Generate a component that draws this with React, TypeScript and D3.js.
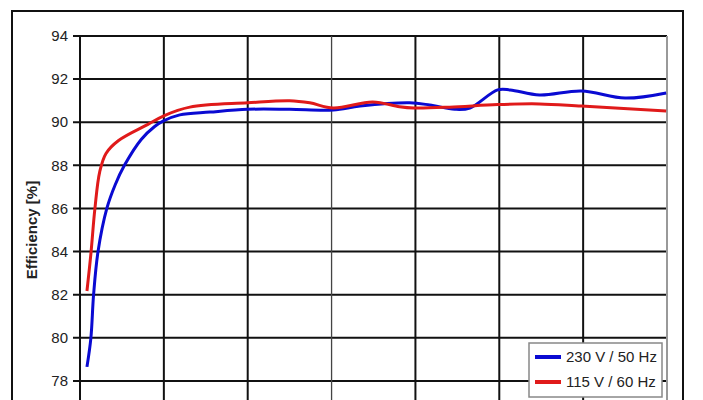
import { useEffect, useRef } from 'react';
import * as d3 from 'd3';

// load axis (its labels lie below the cropped picture, so only gridlines are drawn)
const xTicks = [0, 10, 20, 30, 40, 50, 60, 70];
const yTicks = [76, 78, 80, 82, 84, 86, 88, 90, 92, 94];

const seriesNames = ['230 V / 50 Hz', '115 V / 60 Hz'];
const seriesColors = ['#0a0ad2', '#e01a1a'];

const load230 = [0.83, 1.3, 1.62, 2.15, 3.2, 4.2, 5.3, 7.3, 8.9, 9.9, 11.9, 15.5, 20, 25, 30.2, 33.4, 39.3, 41.7, 44.7, 46.5, 49.8, 51.3, 54.8, 59.8, 65, 69.9];
const eff230 = [78.65, 80, 82, 84, 86, 87.1, 88, 89.2, 89.8, 90.05, 90.34, 90.47, 90.6, 90.6, 90.57, 90.75, 90.9, 90.8, 90.6, 90.66, 91.5, 91.5, 91.26, 91.45, 91.12, 91.36];

const load115 = [0.83, 1.3, 1.78, 2.35, 3.1, 4.6, 8.1, 10, 13.1, 20, 25, 27.4, 30.2, 34.9, 38.1, 39.8, 44.1, 49.8, 54.8, 59.8, 69.9];
const eff115 = [82.17, 83.9, 86, 87.7, 88.55, 89.15, 89.9, 90.3, 90.7, 90.9, 91, 90.9, 90.66, 90.94, 90.72, 90.66, 90.7, 90.82, 90.85, 90.75, 90.52];

const W = 703;
const H = 400;

export default function App() {
  const svgRef = useRef<SVGSVGElement>(null);

  useEffect(() => {
    if (!svgRef.current) return;
    const svg = d3.select(svgRef.current);
    svg.selectAll('*').remove();

    const left = 80, right = 667, top = 36, bottom = 424;
    const x = d3.scaleLinear().domain([0, 70]).range([left, right]);
    const y = d3.scaleLinear().domain([76, 94]).range([bottom, top]);
    const font = 'Liberation Sans, Arial, sans-serif';

    svg.append('rect').attr('width', W).attr('height', H).attr('fill', '#fff');

    // outer chart frame
    svg.append('rect').attr('x', 12).attr('y', 11).attr('width', 671).attr('height', 440)
      .attr('fill', 'none').attr('stroke', '#111').attr('stroke-width', 2);

    // horizontal grid + left ticks
    svg.append('g').selectAll('line').data(yTicks).join('line')
      .attr('x1', left - 7).attr('x2', right).attr('y1', d => y(d)).attr('y2', d => y(d))
      .attr('stroke', '#111').attr('stroke-width', 2);

    // vertical grid
    svg.append('g').selectAll('line').data(xTicks.slice(1, -1)).join('line')
      .attr('x1', d => x(d)).attr('x2', d => x(d)).attr('y1', top).attr('y2', bottom)
      .attr('stroke', d => (d === 30 ? '#444' : '#111')).attr('stroke-width', d => (d === 30 ? 1.3 : 2));

    // right border (gray) and left axis
    svg.append('line').attr('x1', right).attr('x2', right).attr('y1', top).attr('y2', bottom)
      .attr('stroke', '#999').attr('stroke-width', 2);
    svg.append('line').attr('x1', left).attr('x2', left).attr('y1', top).attr('y2', bottom + 7)
      .attr('stroke', '#111').attr('stroke-width', 2);

    // y tick labels (only those inside the picture)
    svg.append('g').selectAll('text').data(yTicks.filter(d => y(d) < H - 10)).join('text')
      .attr('x', left - 12).attr('y', d => y(d)).attr('dy', '0.35em')
      .attr('text-anchor', 'end').attr('font-family', font)
      .attr('font-size', 15).attr('fill', '#222').text(d => d);

    // y title
    svg.append('text').attr('transform', `translate(37,${(top + bottom) / 2}) rotate(-90)`)
      .attr('text-anchor', 'middle').attr('font-family', font)
      .attr('font-size', 15).attr('font-weight', 'bold').attr('fill', '#222').text('Efficiency [%]');

    // curves
    const line = d3.line<[number, number]>().x(d => x(d[0])).y(d => y(d[1])).curve(d3.curveCatmullRom.alpha(0.5));
    const data: [number, number][][] = [
      load230.map((v, i) => [v, eff230[i]]),
      load115.map((v, i) => [v, eff115[i]]),
    ];
    data.forEach((pts, i) => {
      svg.append('path').datum(pts).attr('d', line).attr('fill', 'none')
        .attr('stroke', seriesColors[i]).attr('stroke-width', 3).attr('stroke-linejoin', 'round');
    });

    // legend
    const lg = svg.append('g').attr('transform', 'translate(529,343)');
    lg.append('rect').attr('width', 133).attr('height', 54).attr('fill', '#fff')
      .attr('stroke', '#888').attr('stroke-width', 1.5);
    seriesNames.forEach((name, i) => {
      const ly = 14 + i * 25;
      lg.append('line').attr('x1', 6).attr('x2', 32).attr('y1', ly).attr('y2', ly)
        .attr('stroke', seriesColors[i]).attr('stroke-width', 4);
      lg.append('text').attr('x', 37).attr('y', ly).attr('dy', '0.35em')
        .attr('font-family', font).attr('font-size', 15)
        .attr('fill', '#222').text(name);
    });
  }, []);

  return (
    <svg ref={svgRef} width={W} height={H}
      style={{ position: 'fixed', left: 0, top: 0, display: 'block' }} />
  );
}
